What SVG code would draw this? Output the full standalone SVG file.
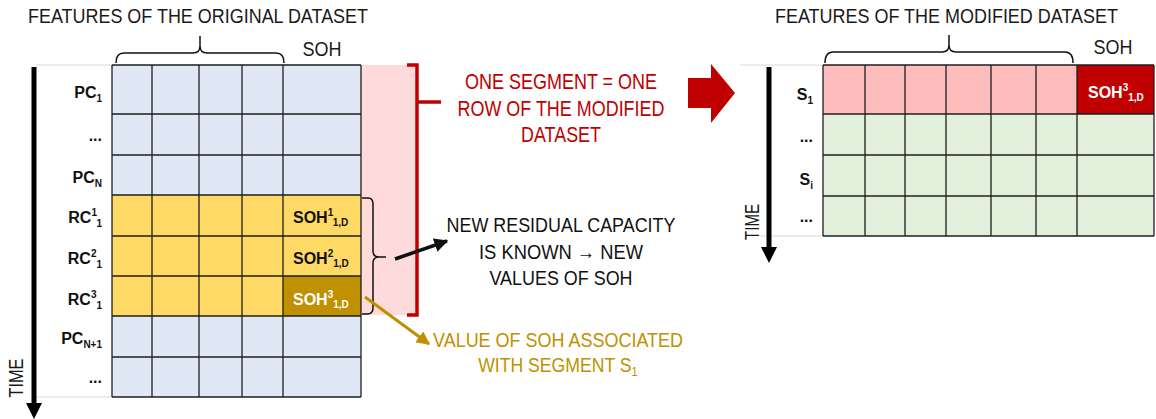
<svg xmlns="http://www.w3.org/2000/svg" width="1156" height="419" viewBox="0 0 1156 419">
<defs>
<style>
text{font-family:"Liberation Sans",Arial,sans-serif}
.t{font-size:20px;fill:#1a1a1a}
.lbl{font-size:16px;font-weight:bold;fill:#111;text-anchor:end}
.cell{font-size:16px;font-weight:bold;fill:#111}
.g{stroke:#1e1e1e;stroke-width:1.3}
.blue{fill:#dfe8f4}
.yel{fill:#ffd966}
.grn{fill:#e2efda}
.pnk{fill:#ffbcbc}
.brace{fill:none;stroke:#111;stroke-width:1.5}
.faint{stroke:#d8d8d8;stroke-width:1}
.red{fill:#c00000;font-size:22px;text-anchor:middle}
.blk{fill:#111;font-size:20px;text-anchor:middle}
.gold{fill:#bf9000;font-size:20.5px;text-anchor:middle}
</style>
<marker id="ahB" viewBox="0 0 10 10" refX="9" refY="5" markerWidth="4" markerHeight="4" orient="auto"><path d="M0,0 L10,5 L0,10 z" fill="#111"/></marker>
<marker id="ahG" viewBox="0 0 10 10" refX="9" refY="5" markerWidth="4.5" markerHeight="4.5" orient="auto"><path d="M0,0 L10,5 L0,10 z" fill="#bf9000"/></marker>
</defs>
<rect width="1156" height="419" fill="#fff"/>

<g id="title-original"><text class="t" x="28" y="23" textLength="340" lengthAdjust="spacingAndGlyphs">FEATURES OF THE ORIGINAL DATASET</text></g>
<g id="title-modified"><text class="t" x="775" y="23" textLength="343" lengthAdjust="spacingAndGlyphs">FEATURES OF THE MODIFIED DATASET</text></g>

<g id="brace-original">
<path class="brace" d="M116,63 Q116,53 124,53 H193 Q200,53 200,46 V36 M200,46 Q200,53 207,53 H276 Q284,53 284,63"/>
<text class="t" x="322" y="56" font-size="18" text-anchor="middle" textLength="39" lengthAdjust="spacingAndGlyphs">SOH</text>
</g>
<g id="brace-modified">
<path class="brace" d="M825,63 Q825,52 833,52 H942 Q949,52 949,45 V35 M949,45 Q949,52 956,52 H1065 Q1073,52 1073,63"/>
<text class="t" x="1113" y="54" font-size="18" text-anchor="middle" textLength="39" lengthAdjust="spacingAndGlyphs">SOH</text>
</g>

<g id="segment-band">
<rect x="361" y="65" width="56" height="250" fill="#ffdada"/>
</g>

<g id="original-grid">
<line class="faint" x1="35" y1="65" x2="112" y2="65"/>
<line class="faint" x1="35" y1="397" x2="112" y2="397"/>
<rect class="blue" x="112" y="65" width="249" height="130"/>
<rect class="yel" x="112" y="195" width="249" height="121"/>
<rect x="283" y="276" width="78" height="40" fill="#bf9000"/>
<rect class="blue" x="112" y="316" width="249" height="81"/>
<g class="g">
<line x1="112" y1="65" x2="361" y2="65"/>
<line x1="112" y1="114" x2="361" y2="114"/>
<line x1="112" y1="155" x2="361" y2="155"/>
<line x1="112" y1="195" x2="361" y2="195"/>
<line x1="112" y1="236" x2="361" y2="236"/>
<line x1="112" y1="276" x2="361" y2="276"/>
<line x1="112" y1="316" x2="361" y2="316"/>
<line x1="112" y1="357" x2="361" y2="357"/>
<line x1="112" y1="397" x2="361" y2="397"/>
<line x1="112" y1="65" x2="112" y2="397"/>
<line x1="152" y1="65" x2="152" y2="397"/>
<line x1="199" y1="65" x2="199" y2="397"/>
<line x1="242" y1="65" x2="242" y2="397"/>
<line x1="283" y1="65" x2="283" y2="397"/>
<line x1="361" y1="65" x2="361" y2="397"/>
</g>
<text class="lbl" x="102" y="98">PC<tspan font-size="10" dy="4">1</tspan></text>
<text class="lbl" x="102" y="141">...</text>
<text class="lbl" x="102" y="183">PC<tspan font-size="10" dy="4">N</tspan></text>
<text class="lbl" x="102" y="223">RC<tspan font-size="10" dy="-7">1</tspan><tspan font-size="10" dy="11">1</tspan></text>
<text class="lbl" x="102" y="264">RC<tspan font-size="10" dy="-7">2</tspan><tspan font-size="10" dy="11">1</tspan></text>
<text class="lbl" x="102" y="305">RC<tspan font-size="10" dy="-7">3</tspan><tspan font-size="10" dy="11">1</tspan></text>
<text class="lbl" x="102" y="344">PC<tspan font-size="10" dy="4">N+1</tspan></text>
<text class="lbl" x="102" y="383">...</text>
<text class="cell" x="293" y="223">SOH<tspan font-size="10" dy="-7">1</tspan><tspan font-size="10" dy="10">1,D</tspan></text>
<text class="cell" x="293" y="264">SOH<tspan font-size="10" dy="-7">2</tspan><tspan font-size="10" dy="10">1,D</tspan></text>
<text class="cell" x="293" y="305" style="fill:#fff">SOH<tspan font-size="10" dy="-7">3</tspan><tspan font-size="10" dy="10">1,D</tspan></text>
</g>

<g id="time-axis-left">
<line x1="34" y1="67" x2="34" y2="404" stroke="#000" stroke-width="5"/>
<polygon points="26,403 42,403 34,419" fill="#000"/>
<text class="t" font-size="16" text-anchor="middle" transform="translate(23,378) rotate(-90)" textLength="39" lengthAdjust="spacingAndGlyphs">TIME</text>
</g>

<g id="modified-grid">
<line class="faint" x1="740" y1="65" x2="823" y2="65"/>
<line class="faint" x1="760" y1="236" x2="823" y2="236"/>
<rect class="pnk" x="823" y="65" width="254" height="49"/>
<rect x="1077" y="65" width="77" height="49" fill="#c00000"/>
<rect class="grn" x="823" y="114" width="331" height="122"/>
<g class="g">
<line x1="823" y1="65" x2="1154" y2="65"/>
<line x1="823" y1="114" x2="1154" y2="114"/>
<line x1="823" y1="155" x2="1154" y2="155"/>
<line x1="823" y1="196" x2="1154" y2="196"/>
<line x1="823" y1="236" x2="1154" y2="236"/>
<line x1="823" y1="65" x2="823" y2="236"/>
<line x1="865" y1="65" x2="865" y2="236"/>
<line x1="905" y1="65" x2="905" y2="236"/>
<line x1="946" y1="65" x2="946" y2="236"/>
<line x1="991" y1="65" x2="991" y2="236"/>
<line x1="1036" y1="65" x2="1036" y2="236"/>
<line x1="1077" y1="65" x2="1077" y2="236"/>
<line x1="1154" y1="65" x2="1154" y2="236"/>
</g>
<text class="lbl" x="813" y="100">S<tspan font-size="10" dy="4">1</tspan></text>
<text class="lbl" x="813" y="142">...</text>
<text class="lbl" x="813" y="185">S<tspan font-size="10" dy="4">i</tspan></text>
<text class="lbl" x="813" y="222">...</text>
<text class="cell" x="1088" y="98" style="fill:#fff">SOH<tspan font-size="10" dy="-7">3</tspan><tspan font-size="10" dy="10">1,D</tspan></text>
</g>

<g id="time-axis-right">
<line x1="769" y1="67" x2="769" y2="248" stroke="#000" stroke-width="5"/>
<polygon points="761,247 777,247 769,263" fill="#000"/>
<text class="t" font-size="16" text-anchor="middle" transform="translate(759,222) rotate(-90)" textLength="36" lengthAdjust="spacingAndGlyphs">TIME</text>
</g>

<g id="segment-note">
<text class="red" x="561" y="89" textLength="192" lengthAdjust="spacingAndGlyphs">ONE SEGMENT = ONE</text>
<text class="red" x="561" y="116" textLength="207" lengthAdjust="spacingAndGlyphs">ROW OF THE MODIFIED</text>
<text class="red" x="561" y="142" textLength="80" lengthAdjust="spacingAndGlyphs">DATASET</text>
</g>

<g id="residual-note">
<text class="blk" x="561" y="232" textLength="229" lengthAdjust="spacingAndGlyphs">NEW RESIDUAL CAPACITY</text>
<text class="blk" x="561" y="259" textLength="164" lengthAdjust="spacingAndGlyphs">IS KNOWN → NEW</text>
<text class="blk" x="561" y="285" textLength="143" lengthAdjust="spacingAndGlyphs">VALUES OF SOH</text>
</g>

<g id="soh-note">
<text class="gold" x="558" y="347" textLength="250" lengthAdjust="spacingAndGlyphs">VALUE OF SOH ASSOCIATED</text>
<text class="gold" transform="translate(558,372) scale(0.86,1)" x="0" y="0">WITH SEGMENT S<tspan font-size="13" dy="4">1</tspan></text>
</g>

<g id="connectors">
<path d="M407,65 H417 V315 H407 M417,102 H441" fill="none" stroke="#c00000" stroke-width="3.5"/>
<path class="brace" d="M362,198 H368 Q373,198 373,204 V251 Q373,257 379,257 H386 M379,257 Q373,257 373,263 V308 Q373,314 367,314 H362"/>
<line x1="395" y1="259" x2="447" y2="241" stroke="#111" stroke-width="3.5" marker-end="url(#ahB)"/>
<line x1="365" y1="297" x2="429" y2="344" stroke="#bf9000" stroke-width="3" marker-end="url(#ahG)"/>
<polygon points="688,78 711,78 711,64 735,93 711,123 711,108 688,108" fill="#c00000"/>
</g>
</svg>
